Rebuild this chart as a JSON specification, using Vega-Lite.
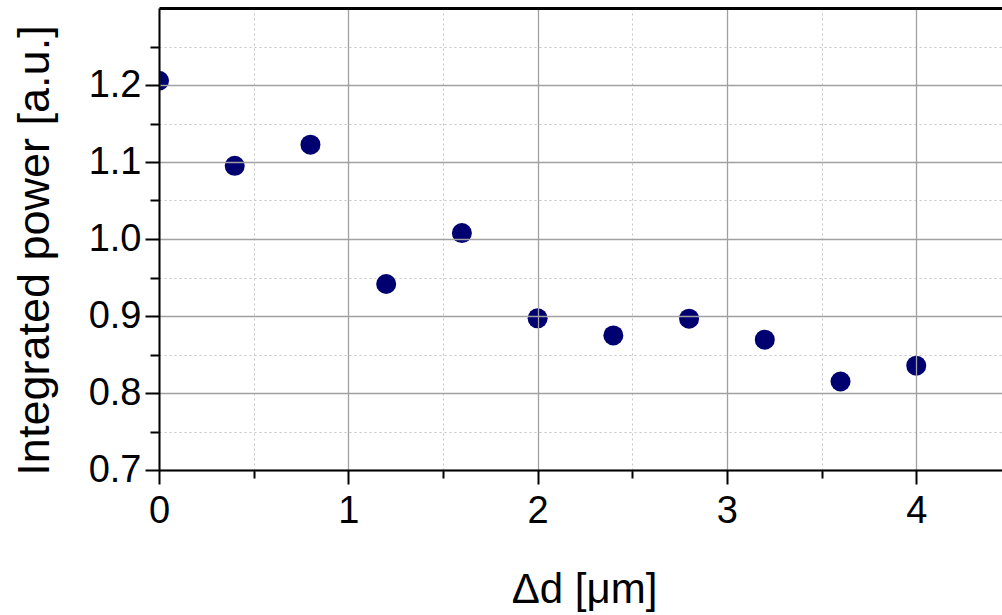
{
  "$schema": "https://vega.github.io/schema/vega-lite/v6.json",
  "width": 843,
  "height": 462,
  "autosize": {"type": "none"},
  "padding": {"left": 159, "top": 8, "right": 0, "bottom": 145},
  "background": "white",
  "config": {
    "view": {"stroke": null},
    "axis": {
      "domainColor": "#000000",
      "domainWidth": 2,
      "tickColor": "#000000",
      "tickWidth": 2,
      "labelFont": "Liberation Sans",
      "titleFont": "Liberation Sans",
      "labelColor": "#000000",
      "titleColor": "#000000",
      "titleFontWeight": "normal"
    }
  },
  "data": {
    "values": [
      {"d": 0.0, "p": 1.2055},
      {"d": 0.4, "p": 1.095},
      {"d": 0.8, "p": 1.1225},
      {"d": 1.2, "p": 0.9415},
      {"d": 1.6, "p": 1.0077},
      {"d": 2.0, "p": 0.897},
      {"d": 2.4, "p": 0.8748},
      {"d": 2.8, "p": 0.8965},
      {"d": 3.2, "p": 0.8693},
      {"d": 3.6, "p": 0.815},
      {"d": 4.0, "p": 0.8355}
    ]
  },
  "layer": [
    {
      "mark": {"type": "point", "opacity": 0},
      "encoding": {
        "x": {
          "field": "d", "type": "quantitative",
          "scale": {"domain": [0, 4.453], "nice": false, "zero": false},
          "axis": {
            "orient": "bottom", "values": [0.5, 1.5, 2.5, 3.5],
            "labels": false, "title": null, "domain": false,
            "tickSize": 8, "grid": true, "gridColor": "#c4c4c4",
            "gridDash": [2, 3], "gridWidth": 1, "zindex": 0
          }
        },
        "y": {
          "field": "p", "type": "quantitative",
          "scale": {"domain": [0.7, 1.3], "nice": false, "zero": false},
          "axis": {
            "orient": "left", "values": [0.75, 0.85, 0.95, 1.05, 1.15, 1.25],
            "labels": false, "title": null, "domain": false,
            "tickSize": 9, "grid": true, "gridColor": "#c4c4c4",
            "gridDash": [2, 3], "gridWidth": 1, "zindex": 0
          }
        }
      }
    },
    {
      "mark": {"type": "point", "opacity": 0},
      "encoding": {
        "x": {
          "field": "d", "type": "quantitative",
          "axis": {
            "orient": "top", "labels": false, "ticks": false, "grid": false,
            "title": null, "domain": true, "domainWidth": 3, "zindex": 2
          }
        },
        "y": {
          "field": "p", "type": "quantitative",
          "axis": null
        }
      }
    },
    {
      "mark": {"type": "circle", "clip": true, "color": "#000070", "opacity": 1, "size": 400},
      "encoding": {
        "x": {
          "field": "d", "type": "quantitative",
          "axis": {
            "orient": "bottom", "values": [0, 1, 2, 3, 4], "format": "d",
            "tickSize": 14, "labelFontSize": 38, "labelPadding": 8, "labelFlush": false,
            "grid": true, "gridColor": "#a0a0a0", "gridWidth": 1.3,
            "title": "Δd [μm]", "titleFontSize": 42,
            "titleX": 425, "titleY": 132, "titleBaseline": "alphabetic",
            "zindex": 1
          }
        },
        "y": {
          "field": "p", "type": "quantitative",
          "axis": {
            "orient": "left", "values": [0.7, 0.8, 0.9, 1.0, 1.1, 1.2], "format": ".1f",
            "tickSize": 14, "labelFontSize": 38, "labelPadding": 4, "labelFlush": false,
            "grid": true, "gridColor": "#a0a0a0", "gridWidth": 1.3,
            "title": "Integrated power [a.u.]", "titleFontSize": 45,
            "titleX": -111, "titleY": 242, "titleBaseline": "alphabetic",
            "titleAngle": -90, "zindex": 1
          }
        }
      }
    }
  ],
  "resolve": {"axis": {"x": "independent", "y": "independent"}}
}
